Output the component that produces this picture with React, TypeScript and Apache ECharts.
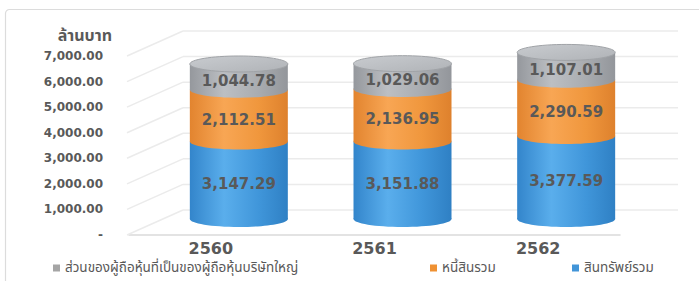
import React, { useEffect, useRef } from "react";
import * as echarts from "echarts";

const categories = ["2560", "2561", "2562"];
const assets = [3147.29, 3151.88, 3377.59];
const liabilities = [2112.51, 2136.95, 2290.59];
const equity = [1044.78, 1029.06, 1107.01];
const yTicks = [0, 1000, 2000, 3000, 4000, 5000, 6000, 7000];
const seriesNames = [
  "ส่วนของผู้ถือหุ้นที่เป็นของผู้ถือหุ้นบริษัทใหญ่",
  "หนี้สินรวม",
  "สินทรัพย์รวม",
];
const axisTitle = "ล้านบาท";

const NUM_FONT = "DejaVu Sans, Verdana, sans-serif";
const THAI_FONT = "Noto Sans Thai, Noto Sans, DejaVu Sans, sans-serif";
const TEXT_COLOR = "#595959";

const fmt = (v: number) =>
  v === 0 ? "-" : v.toLocaleString("en-US", { minimumFractionDigits: 2, maximumFractionDigits: 2 });

type Pal = { solid: string; stops: string[] };
const BLUE: Pal = { solid: "#4295d8", stops: ["#3385cb", "#5aaeec", "#4096da", "#2f80c4"] };
const ORANGE: Pal = { solid: "#ef9133", stops: ["#e2842f", "#f8a654", "#f0973d", "#de812d"] };
const GRAY: Pal = { solid: "#a5a5a5", stops: ["#95989d", "#bcbfc3", "#a9acb0", "#93969b"] };

const grad = (p: Pal) =>
  new echarts.graphic.LinearGradient(0, 0, 1, 0, [
    { offset: 0, color: p.stops[0] },
    { offset: 0.35, color: p.stops[1] },
    { offset: 0.7, color: p.stops[2] },
    { offset: 1, color: p.stops[3] },
  ]);

function cylinder(name: string, vals: number[], bases: number[], pal: Pal, isTop: boolean, z: number) {
  return {
    type: "custom",
    name,
    yAxisIndex: 1,
    coordinateSystem: "cartesian2d",
    itemStyle: { color: pal.solid },
    z,
    data: vals.map((v, i) => [i, bases[i], v]),
    encode: { x: 0, y: [1, 2] },
    renderItem: (params: any, api: any) => {
      const i = api.value(0);
      const b = api.value(1);
      const v = api.value(2);
      const DX = 28;
      const rx = 49;
      const ry = 8;
      const [cx0, yb] = api.coord([i, b]);
      const yt = api.coord([i, b + v])[1];
      const cx = cx0 + DX;
      const children: any[] = [
        { type: "ellipse", shape: { cx, cy: yb, rx, ry }, style: { fill: grad(pal) } },
        { type: "rect", shape: { x: cx - rx, y: yt, width: rx * 2, height: yb - yt }, style: { fill: grad(pal) } },
      ];
      if (isTop) {
        children.push({
          type: "ellipse",
          shape: { cx, cy: yt, rx, ry },
          style: {
            fill: new echarts.graphic.LinearGradient(0, 0, 1, 1, [
              { offset: 0, color: "#c8cbcf" },
              { offset: 1, color: "#b0b3b7" },
            ]),
            stroke: "#a0a3a7",
            lineWidth: 1,
          },
        });
      }
      children.push({
        type: "text",
        style: {
          text: fmt(v),
          x: cx,
          y: (yb + yt) / 2 + 4,
          align: "center",
          verticalAlign: "middle",
          fill: TEXT_COLOR,
          font: `bold 15px ${NUM_FONT}`,
        },
      });
      return { type: "group", children };
    },
  };
}

const bases0 = assets.map(() => 0);
const bases1 = assets.map((a) => a);
const bases2 = assets.map((a, i) => a + liabilities[i]);

const legendAt = (name: string, left: number) => ({
  left,
  top: 261,
  padding: 0,
  icon: "rect",
  itemWidth: 7,
  itemHeight: 7,
  selectedMode: false,
  textStyle: { fontSize: 13.5, lineHeight: 14, color: TEXT_COLOR, fontFamily: THAI_FONT },
  data: [name],
});

export default function App() {
  const ref = useRef<HTMLDivElement>(null);
  useEffect(() => {
    if (!ref.current) return;
    const chart = echarts.init(ref.current, undefined, { renderer: "svg" });
    chart.setOption({
      animation: false,
      backgroundColor: "#ffffff",
      graphic: [
        {
          type: "rect",
          silent: true,
          z: -10,
          shape: { x: 5.5, y: 9.5, width: 720, height: 320, r: 4 },
          style: { fill: "none", stroke: "#dcdcdc", lineWidth: 1.2 },
        },
      ],
      legend: [
        legendAt(seriesNames[0], 53),
        legendAt(seriesNames[1], 430),
        legendAt(seriesNames[2], 572),
      ],
      grid: { left: 129, right: 79, top: 56, bottom: 46 },
      xAxis: {
        type: "category",
        data: categories,
        axisLine: { show: true, lineStyle: { color: "#dadada", width: 1.5 } },
        axisTick: { show: false },
        axisLabel: { fontSize: 16, lineHeight: 16, fontWeight: "bold", color: TEXT_COLOR, fontFamily: NUM_FONT, margin: 5 },
      },
      yAxis: [
        {
          type: "value",
          min: 0,
          max: 7000,
          interval: 1000,
          name: axisTitle,
          nameLocation: "end",
          nameGap: 20,
          nameTextStyle: {
            align: "right",
            verticalAlign: "middle",
            fontSize: 16,
            fontWeight: "bold",
            color: TEXT_COLOR,
            fontFamily: THAI_FONT,
            padding: [0, 17, 0, 0],
          },
          axisLine: { show: false },
          axisTick: { show: false },
          splitLine: { show: false },
          axisLabel: {
            fontSize: 12,
            fontWeight: "bold",
            color: TEXT_COLOR,
            fontFamily: NUM_FONT,
            margin: 26,
            formatter: (v: number) => fmt(v),
          },
        },
        {
          type: "value",
          min: -651,
          max: 6630,
          show: false,
          splitLine: { show: false },
        },
      ],
      series: [
        {
          type: "custom",
          coordinateSystem: "cartesian2d",
          silent: true,
          z: 1,
          data: yTicks.map((v) => [0, v]),
          encode: { x: 0, y: 1 },
          renderItem: (params: any, api: any) => {
            const y = api.coord([0, api.value(1)])[1];
            const cs = params.coordSys;
            const x0 = cs.x - 2;
            const x1 = cs.x + 54;
            const yb = y - 25;
            const xr = cs.x + cs.width + 58;
            const style = { stroke: "#ebebeb", lineWidth: 1.5, fill: "none" };
            return {
              type: "group",
              children: [
                { type: "line", shape: { x1: x0, y1: y, x2: x1, y2: yb }, style },
                { type: "line", shape: { x1: x1, y1: yb, x2: xr, y2: yb }, style },
              ],
            };
          },
        },
        cylinder(seriesNames[2], assets, bases0, BLUE, false, 3),
        cylinder(seriesNames[1], liabilities, bases1, ORANGE, false, 4),
        cylinder(seriesNames[0], equity, bases2, GRAY, true, 5),
      ],
    });
    return () => chart.dispose();
  }, []);
  return (
    <div
      ref={ref}
      style={{ position: "fixed", left: 0, top: 0, width: 699, height: 281, background: "#fff" }}
    />
  );
}
